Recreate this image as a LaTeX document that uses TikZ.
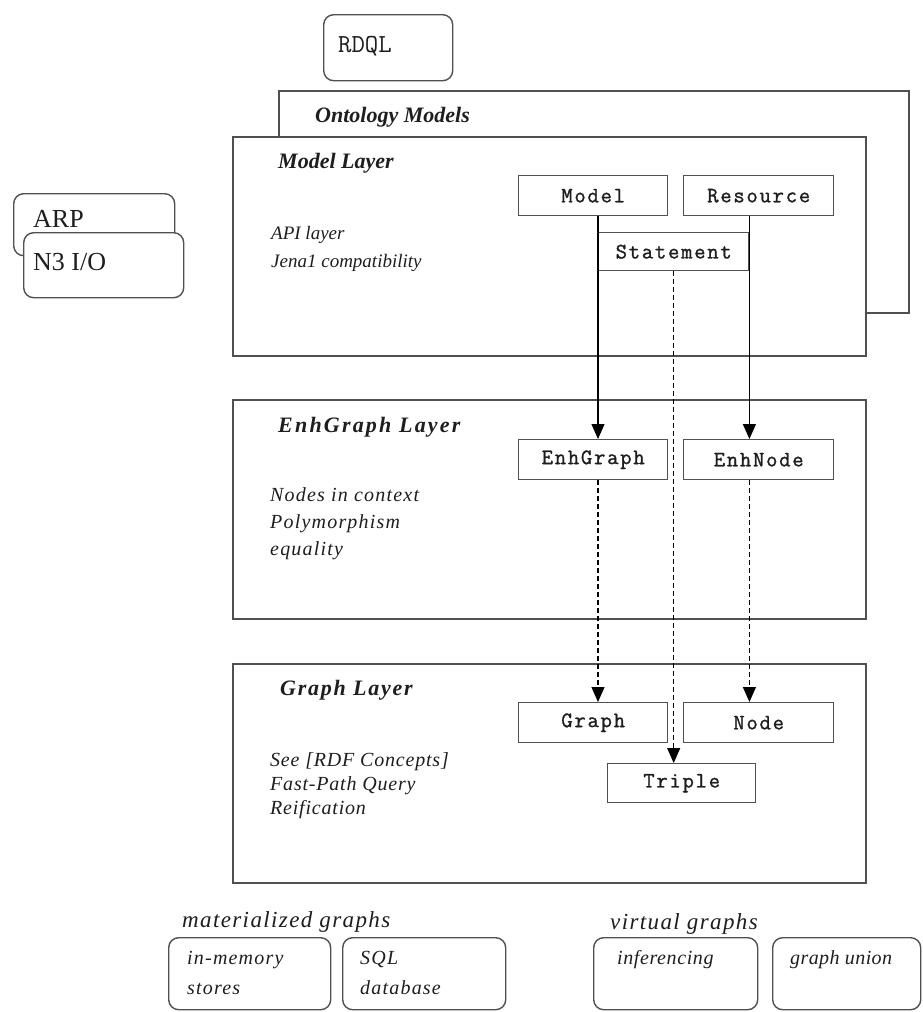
\documentclass[tikz,border=0pt]{standalone}
\usepackage{fontspec}
\setmainfont{Liberation Serif}
\setmonofont{Latin Modern Mono}
\newfontfamily\classfont{Latin Modern Mono}[LetterSpace=8,FakeBold=1.2]
\usetikzlibrary{arrows.meta}
\definecolor{linegray}{HTML}{505050}
\definecolor{inkgray}{HTML}{1E1E1E}

\begin{document}
\begin{tikzpicture}[x=1pt,y=-1pt,
  layerbox/.style={draw=linegray, line width=1.6pt, fill=white, inner sep=0pt, anchor=north west},
  classbox/.style={draw=linegray, line width=1.4pt, fill=white, inner sep=0pt, anchor=north west,
    minimum width=149pt, minimum height=40pt, text=inkgray,
    font=\classfont\fontsize{22}{22}\selectfont},
  roundbox/.style={draw=linegray, line width=1.4pt, fill=white, rounded corners=10pt, inner sep=0pt, anchor=north west},
  title/.style={anchor=west, inner sep=0pt, text=inkgray, font=\fontsize{22}{22}\selectfont\bfseries\itshape},
  note/.style={anchor=west, inner sep=0pt, align=left, text=inkgray},
  plain/.style={anchor=west, inner sep=0pt, text=inkgray, font=\fontsize{26}{26}\selectfont},
  flow/.style={-{Triangle[length=15pt,width=13pt]}, line width=1.1pt, draw=black},
  dflow/.style={flow, dash pattern=on 5pt off 3pt}
]
\useasboundingbox (0,0) rectangle (923,1012);
\fill[white] (0,0) rectangle (923,1012);

% query front end
\node[roundbox, minimum width=129pt, minimum height=66pt] (rdqlbox) at (323,14) {};
\node[plain, font=\ttfamily\fontsize{26}{26}\selectfont] (rdqltext) at (338,46) {RDQL};

% ontology models behind the model layer
\node[layerbox, minimum width=630pt, minimum height=222pt] (ontology) at (278,90) {};
\node[title] (ontologytitle) at (315,117) {Ontology Models};

% I/O boxes
\node[roundbox, minimum width=161pt, minimum height=62pt] (arpbox) at (13,193) {};
\node[plain] (arptext) at (33,219) {ARP};
\node[roundbox, minimum width=160pt, minimum height=65pt] (n3box) at (23,232) {};
\node[plain] (n3text) at (33,262) {N3 I/O};

% layers
\node[layerbox, minimum width=633pt, minimum height=219pt] (modellayer) at (232,136) {};
\node[layerbox, minimum width=633pt, minimum height=219pt] (enhlayer) at (232,399) {};
\node[layerbox, minimum width=633pt, minimum height=219pt] (graphlayer) at (232,663) {};

\node[title] (modeltitle) at (278,163) {Model Layer};
\node[title, font=\fontsize{22}{22}\selectfont\bfseries\itshape\addfontfeature{LetterSpace=10}] (enhtitle) at (278,427) {EnhGraph Layer};
\node[title, font=\fontsize{22}{22}\selectfont\bfseries\itshape\addfontfeature{LetterSpace=8}] (graphtitle) at (280,690) {Graph Layer};

\node[note, font=\fontsize{19}{28}\selectfont\itshape] (modelnote) at (271,249) {API layer\\Jena1 compatibility};
\node[note, font=\fontsize{20}{27}\selectfont\itshape\addfontfeature{LetterSpace=6}] (enhnote) at (270,524) {Nodes in context\\Polymorphism\\equality};
\node[note, font=\fontsize{20}{24}\selectfont\itshape\addfontfeature{LetterSpace=4}] (graphnote) at (270,786) {See [RDF Concepts]\\Fast-Path Query\\Reification};

% classes
\node[classbox] (model) at (518,175) {Model};
\node[classbox, minimum width=150pt] (resource) at (683,175) {Resource};
\node[classbox, minimum width=150pt, minimum height=38pt] (stmt) at (598,232) {Statement};
\node[classbox] (enhgraph) at (518,439) {EnhGraph};
\node[classbox, minimum width=150pt] (enhnode) at (683,439) {EnhNode};
\node[classbox] (graphbox) at (518,702) {Graph};
\node[classbox, minimum width=150pt] (nodebox) at (683,702) {Node};
\node[classbox, minimum width=148pt, minimum height=39pt] (triple) at (607,763) {Triple};

% connectors
\draw[flow] (model.south -| stmt.west) -- (enhgraph.north -| stmt.west);
\draw[flow] (resource.south -| stmt.east) -- (enhnode.north -| stmt.east);
\draw[dflow] (stmt.south) -- (triple.north -| stmt.south);
\draw[dflow] (enhgraph.south -| stmt.west) -- (graphbox.north -| stmt.west);
\draw[dflow] (enhnode.south -| stmt.east) -- (nodebox.north -| stmt.east);

% storage
\node[note, font=\fontsize{23}{23}\selectfont\itshape\addfontfeature{LetterSpace=6}] (mattitle) at (182,922) {materialized graphs};
\node[note, font=\fontsize{23}{23}\selectfont\itshape\addfontfeature{LetterSpace=6}] (virttitle) at (610,924) {virtual graphs};

\node[roundbox, minimum width=162pt, minimum height=72pt] (memorybox) at (168,937) {};
\node[roundbox, minimum width=163pt, minimum height=72pt] (sqlbox) at (342,937) {};
\node[roundbox, minimum width=164pt, minimum height=72pt] (inferbox) at (593,937) {};
\node[roundbox, minimum width=148pt, minimum height=72pt] (unionbox) at (772,937) {};

\node[note, font=\fontsize{20}{30}\selectfont\itshape\addfontfeature{LetterSpace=6}] (memorytext) at (187,973) {in-memory\\stores};
\node[note, font=\fontsize{20}{30}\selectfont\itshape\addfontfeature{LetterSpace=6}] (sqltext) at (360,973) {SQL\\database};
\node[note, font=\fontsize{20}{20}\selectfont\itshape\addfontfeature{LetterSpace=3}] (infertext) at (617,960) {inferencing};
\node[note, font=\fontsize{20}{20}\selectfont\itshape\addfontfeature{LetterSpace=2}] (uniontext) at (790,960) {graph union};
\end{tikzpicture}
\end{document}
